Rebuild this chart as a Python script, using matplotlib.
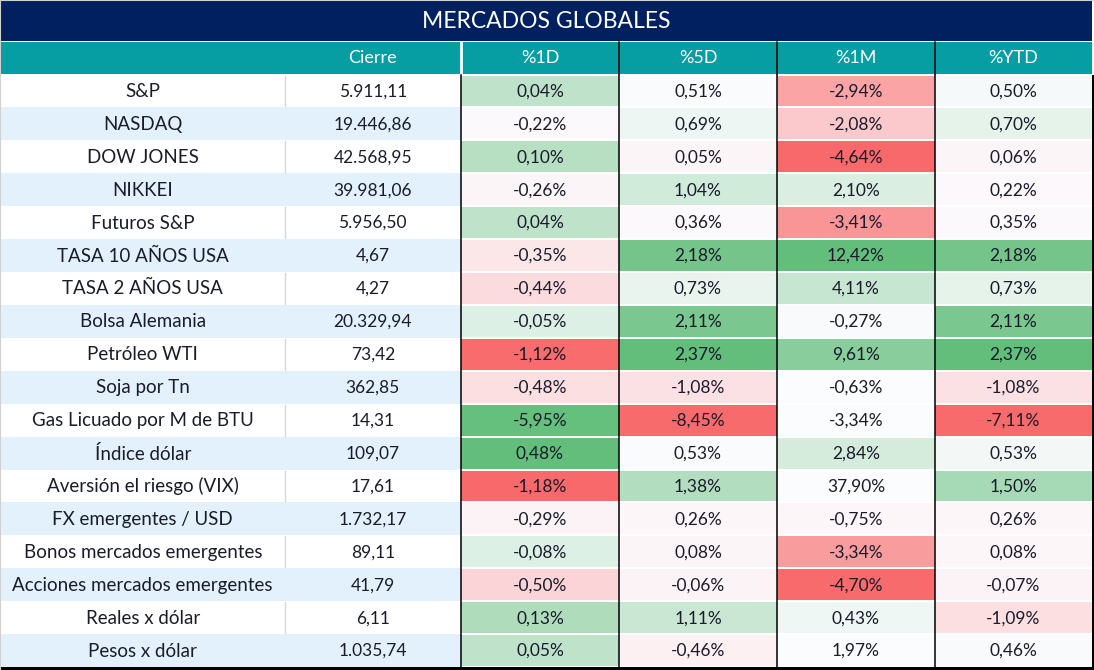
import matplotlib
matplotlib.use("Agg")
import matplotlib.pyplot as plt
from matplotlib.patches import Rectangle
from matplotlib.colors import LinearSegmentedColormap

plt.rcParams['font.family'] = ['Lato', 'DejaVu Sans']

# ---------------- data ----------------
title = "MERCADOS GLOBALES"
columns = ["Cierre", "%1D", "%5D", "%1M", "%YTD"]
names = ["S&P", "NASDAQ", "DOW JONES", "NIKKEI", "Futuros S&P",
         "TASA 10 AÑOS USA", "TASA 2 AÑOS USA", "Bolsa Alemania",
         "Petróleo WTI", "Soja por Tn", "Gas Licuado por M de BTU",
         "Índice dólar", "Aversión el riesgo (VIX)", "FX emergentes / USD",
         "Bonos mercados emergentes", "Acciones mercados emergentes",
         "Reales x dólar", "Pesos x dólar"]
cierre = [5911.11, 19446.86, 42568.95, 39981.06, 5956.50, 4.67, 4.27,
          20329.94, 73.42, 362.85, 14.31, 109.07, 17.61, 1732.17, 89.11,
          41.79, 6.11, 1035.74]
pct_1d = [0.04, -0.22, 0.10, -0.26, 0.04, -0.35, -0.44, -0.05, -1.12, -0.48,
          -5.95, 0.48, -1.18, -0.29, -0.08, -0.50, 0.13, 0.05]
pct_5d = [0.51, 0.69, 0.05, 1.04, 0.36, 2.18, 0.73, 2.11, 2.37, -1.08,
          -8.45, 0.53, 1.38, 0.26, 0.08, -0.06, 1.11, -0.46]
pct_1m = [-2.94, -2.08, -4.64, 2.10, -3.41, 12.42, 4.11, -0.27, 9.61, -0.63,
          -3.34, 2.84, 37.90, -0.75, -3.34, -4.70, 0.43, 1.97]
pct_ytd = [0.50, 0.70, 0.06, 0.22, 0.35, 2.18, 0.73, 2.11, 2.37, -1.08,
           -7.11, 0.53, 1.50, 0.26, 0.08, -0.07, -1.09, 0.46]

# cell shading (-1 red ... 0 white ... +1 green)
shade_1d = [0.40, -0.02, 0.45, -0.05, 0.40, -0.15, -0.22, 0.20, -0.97, -0.20,
            0.98, 1.00, -1.00, -0.06, 0.20, -0.27, 0.50, 0.40]
shade_5d = [0.01, 0.10, -0.05, 0.28, -0.02, 0.88, 0.12, 0.85, 1.00, -0.18,
            -0.98, 0.01, 0.48, -0.04, -0.05, -0.06, 0.33, -0.08]
shade_1m = [-0.60, -0.35, -1.00, 0.22, -0.70, 1.00, 0.35, 0.03, 0.75, 0.00,
            0.00, 0.25, 0.00, -0.04, -0.65, -0.98, 0.08, 0.00]
shade_ytd = [0.04, 0.15, -0.05, -0.03, -0.02, 0.88, 0.15, 0.85, 1.00, -0.18,
             -0.98, 0.06, 0.56, -0.04, -0.04, -0.06, -0.20, 0.03]

# ---------------- style / layout ----------------
W, H = 1094, 670
NAVY = "#012060"
TEAL = "#079ea3"
LIGHT = "#e3f1fd"
TXT = "#1a1c2c"
cmap = LinearSegmentedColormap.from_list(
    "cf", [(0, "#F8696B"), (0.5, "#FCFCFF"), (1, "#63BE7B")])

col_edges = [1, 284.5, 461, 619, 777, 935, 1092]
title_top, title_bot = 1, 40.5
head_top, head_bot = 42, 73.5
body_top, body_bot = 74.5, 667
n = len(names)
row_h = (body_bot - body_top) / n


def fmt_num(v):
    s = f"{v:,.2f}"
    return s.replace(",", "X").replace(".", ",").replace("X", ".")


def fmt_pct(v):
    return f"{v:.2f}%".replace(".", ",")


fig = plt.figure(figsize=(W / 100, H / 100), dpi=100)
ax = fig.add_axes([0, 0, 1, 1])
ax.set_xlim(0, W)
ax.set_ylim(H, 0)
ax.axis("off")

# outer light frame
ax.add_patch(Rectangle((0, 0), W, H, facecolor="white", edgecolor="none"))
ax.plot([0, W], [0.3, 0.3], color="#d0d0d0", lw=0.8)
ax.plot([0.3, 0.3], [0, H], color="#d0d0d0", lw=0.8)

# title bar
ax.add_patch(Rectangle((col_edges[0], title_top), col_edges[-1] - col_edges[0],
                       title_bot - title_top, facecolor=NAVY, edgecolor="none"))
ax.text((col_edges[0] + col_edges[-1]) / 2, (title_top + title_bot) / 2 + 0.5,
        title, color="white", fontsize=16.5, ha="center", va="center")

# header
ax.add_patch(Rectangle((col_edges[0], head_top), col_edges[-1] - col_edges[0],
                       head_bot - head_top, facecolor=TEAL, edgecolor="none"))
for j, c in enumerate(columns):
    xc = (col_edges[j + 1] + col_edges[j + 2]) / 2
    ax.text(xc, (head_top + head_bot) / 2 + 0.5, c, color="white",
            fontsize=13, ha="center", va="center")
ax.plot([col_edges[2], col_edges[2]], [head_top, head_bot], color="white", lw=2)
for x in col_edges[3:6]:
    ax.plot([x, x], [head_top, head_bot], color="black", lw=1.1)

pct_cols = [pct_1d, pct_5d, pct_1m, pct_ytd]
shade_cols = [shade_1d, shade_5d, shade_1m, shade_ytd]

for i in range(n):
    y0 = body_top + i * row_h
    yc = y0 + row_h / 2 + 0.5
    bg = "white" if i % 2 == 0 else LIGHT
    ax.add_patch(Rectangle((col_edges[0], y0), col_edges[2] - col_edges[0],
                           row_h, facecolor=bg, edgecolor="none"))
    if i % 2 == 0:
        ax.plot([col_edges[1], col_edges[1]], [y0 + 1, y0 + row_h - 1],
                color="#d6d6d6", lw=1)
    ax.text((col_edges[0] + col_edges[1]) / 2, yc, names[i], color=TXT,
            fontsize=13.5, ha="center", va="center")
    ax.text((col_edges[1] + col_edges[2]) / 2, yc, fmt_num(cierre[i]),
            color=TXT, fontsize=12.5, ha="center", va="center")
    for j in range(4):
        x0, x1 = col_edges[j + 2], col_edges[j + 3]
        color = cmap((shade_cols[j][i] + 1) / 2)
        ax.add_patch(Rectangle((x0, y0 + 1), x1 - x0, row_h - 2,
                               facecolor=color, edgecolor="none"))
        ax.text((x0 + x1) / 2, yc, fmt_pct(pct_cols[j][i]), color=TXT,
                fontsize=12.5, ha="center", va="center")

for x in col_edges[2:6]:
    ax.plot([x, x], [body_top, body_bot], color="black", lw=1.1)

# bottom / right dark borders
ax.add_patch(Rectangle((0, body_bot), W, H - body_bot, facecolor="black",
                       edgecolor="none"))
ax.add_patch(Rectangle((col_edges[-1] - 0.5, body_top), W - col_edges[-1] + 0.5,
                       H - body_top, facecolor="black", edgecolor="none"))

fig.savefig("out.png", dpi=100)
